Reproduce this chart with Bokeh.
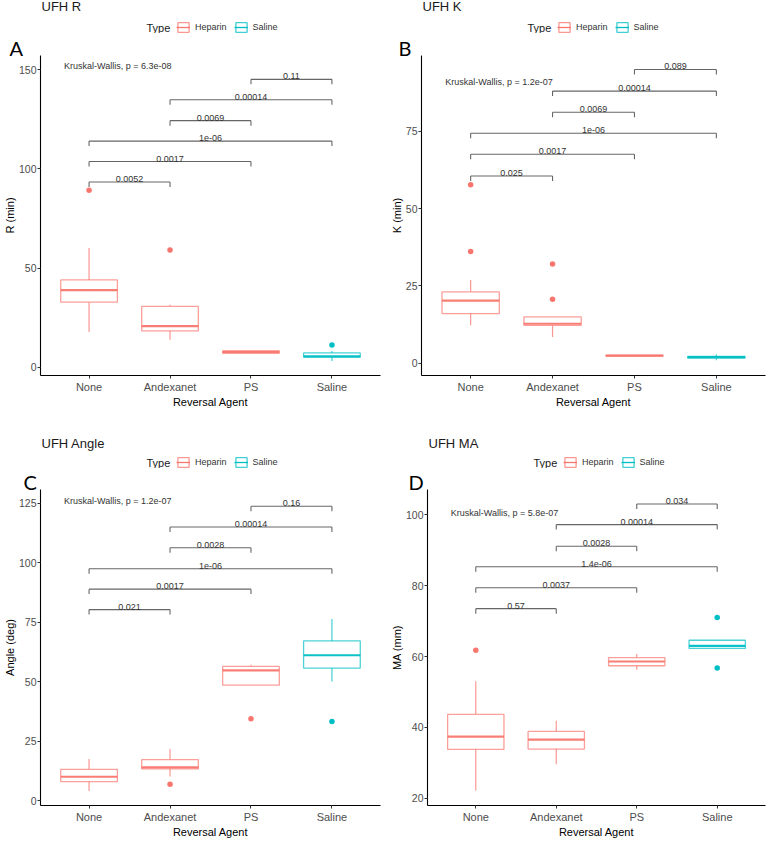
from bokeh.plotting import figure
from bokeh.layouts import column, row
from bokeh.models import Legend, LegendItem, FixedTicker, Range1d, ColumnDataSource, Title
from bokeh.core.properties import value
from bokeh.embed import file_html
from bokeh.resources import INLINE

# ---------------- data ----------------
agents = ["None", "Andexanet", "PS", "Saline"]
agent_type = ["Heparin", "Heparin", "Heparin", "Saline"]
type_names = ["Heparin", "Saline"]
pairs = [("None", "Andexanet"), ("None", "PS"), ("None", "Saline"),
         ("Andexanet", "PS"), ("Andexanet", "Saline"), ("PS", "Saline")]

# UFH R
r_q1 = [32.9, 18.4, 7.1, 5.2]
r_med = [38.9, 20.8, 7.8, 5.6]
r_q3 = [44.1, 30.8, 8.4, 7.3]
r_lo = [17.9, 14.0, 7.1, 3.2]
r_hi = [60.2, 31.6, 8.4, 8.3]
r_out_agent = ["None", "Andexanet", "Saline"]
r_out_val = [89.2, 59.1, 11.3]
r_pvals = ["0.0052", "0.0017", "1e-06", "0.0069", "0.00014", "0.11"]
r_bracket_y = [93.4, 103.7, 114.0, 124.3, 134.8, 145.1]
r_kw = "Kruskal-Wallis, p = 6.3e-08"
r_kw_y = 151.7
r_yticks = [0, 50, 100, 150]

# UFH K
k_q1 = [16.1, 12.3, 2.4, 1.7]
k_med = [20.3, 12.8, 2.5, 2.0]
k_q3 = [23.1, 15.0, 2.6, 2.3]
k_lo = [12.3, 8.5, 2.4, 1.0]
k_hi = [26.9, 15.0, 2.6, 2.9]
k_out_agent = ["None", "None", "Andexanet", "Andexanet"]
k_out_val = [57.7, 36.1, 32.1, 20.7]
k_pvals = ["0.025", "0.0017", "1e-06", "0.0069", "0.00014", "0.089"]
k_bracket_y = [60.5, 67.5, 74.3, 81.1, 87.9, 94.9]
k_kw = "Kruskal-Wallis, p = 1.2e-07"
k_kw_y = 90.8
k_yticks = [0, 25, 50, 75]

# UFH Angle
a_q1 = [7.9, 13.3, 48.5, 55.7]
a_med = [10.0, 13.9, 54.7, 61.1]
a_q3 = [13.1, 17.2, 56.4, 67.1]
a_lo = [4.0, 10.1, 48.5, 50.1]
a_hi = [17.5, 21.7, 57.1, 76.3]
a_out_agent = ["Andexanet", "PS", "Saline"]
a_out_val = [6.8, 34.4, 33.2]
a_pvals = ["0.021", "0.0017", "1e-06", "0.0028", "0.00014", "0.16"]
a_bracket_y = [80.3, 88.9, 97.5, 106.3, 115.0, 123.75]
a_kw = "Kruskal-Wallis, p = 1.2e-07"
a_kw_y = 126.1
a_yticks = [0, 25, 50, 75, 100, 125]

# UFH MA
m_q1 = [33.8, 33.9, 57.4, 62.3]
m_med = [37.4, 36.6, 58.6, 63.0]
m_q3 = [43.7, 38.9, 59.7, 64.6]
m_lo = [22.2, 29.6, 56.3, 62.3]
m_hi = [53.0, 41.9, 60.7, 64.6]
m_out_agent = ["None", "Saline", "Saline"]
m_out_val = [61.8, 71.0, 56.8]
m_pvals = ["0.57", "0.0037", "1.4e-06", "0.0028", "0.00014", "0.034"]
m_bracket_y = [73.5, 79.4, 85.3, 91.1, 97.2, 103.0]
m_kw = "Kruskal-Wallis, p = 5.8e-07"
m_kw_y = 100.5
m_yticks = [20, 40, 60, 80, 100]

# ---------------- style ----------------
COLORS = {"Heparin": "#F8766D", "Saline": "#00BFC4"}
FONT = "Liberation Sans"
BOX_W = 0.7
W = 384
NAN = float("nan")


def make_header(title, hh, title_y, bl, br):
    h = figure(width=W, height=hh, x_range=Range1d(0, 1), y_range=Range1d(0, hh),
               output_backend="svg", toolbar_location=None, x_axis_type=None, y_axis_type=None,
               min_border_left=bl, min_border_right=br, min_border_top=0, min_border_bottom=0)
    h.outline_line_color = None
    h.xgrid.visible = False
    h.ygrid.visible = False
    h.text(x=[0], y=[title_y], text=[title], x_offset=1, text_font=value(FONT),
           text_font_size="13px", text_color="#1a1a1a", text_baseline="middle", text_align="left")
    h.text(x=[0], y=[6], text=["Type"], x_offset=106, text_font=value(FONT),
           text_font_size="11px", text_color="#1a1a1a", text_baseline="middle", text_align="left")
    items = []
    for t in type_names:
        c = COLORS[t]
        b = h.vbar(x=[NAN], width=1, top=[NAN], bottom=[NAN], fill_color="white", line_color=c,
                   line_width=1.3, line_alpha=0.75)
        m = h.segment(x0=[NAN], y0=[NAN], x1=[NAN], y1=[NAN], line_color=c, line_width=1.3)
        items.append(LegendItem(label=t, renderers=[b, m]))
    leg = Legend(items=items, orientation="horizontal", location=(136, 0),
                 glyph_width=14, glyph_height=12, label_height=12, label_standoff=5, spacing=7,
                 padding=0, margin=0, border_line_color=None, background_fill_alpha=0,
                 label_text_font=FONT, label_text_font_size="9px", label_text_color="#333333")
    h.add_layout(leg)
    return h


def make_panel(stats, outs, pvals, bracket_y, kw, kw_y, yticks, ylabel, letter, letter_dx,
               yr, height, bl, br, bt, bb):
    q1, med, q3, lo, hi = stats
    out_agent, out_val = outs
    frame_h = height - bt - bb
    p = figure(width=W, height=height, x_range=Range1d(0.4, 4.6), y_range=Range1d(*yr),
               output_backend="svg", toolbar_location=None,
               min_border_left=bl, min_border_right=br, min_border_top=bt, min_border_bottom=bb)
    p.outline_line_color = None
    p.xgrid.visible = False
    p.ygrid.visible = False

    for t in type_names:
        idx = [i for i, at in enumerate(agent_type) if at == t]
        xs = [i + 1 for i in idx]
        c = COLORS[t]
        src = ColumnDataSource(dict(
            x=xs, x0=[x - BOX_W / 2 for x in xs], x1=[x + BOX_W / 2 for x in xs],
            q1=[q1[i] for i in idx], med=[med[i] for i in idx], q3=[q3[i] for i in idx],
            lo=[lo[i] for i in idx], hi=[hi[i] for i in idx]))
        p.segment(x0="x", y0="q3", x1="x", y1="hi", source=src, line_color=c,
                  line_width=1.2, line_alpha=0.75)
        p.segment(x0="x", y0="q1", x1="x", y1="lo", source=src, line_color=c,
                  line_width=1.2, line_alpha=0.75)
        p.vbar(x="x", width=BOX_W, bottom="q1", top="q3", source=src,
               fill_color="white", line_color=c, line_width=1.3, line_alpha=0.7)
        p.segment(x0="x0", y0="med", x1="x1", y1="med", source=src, line_color=c,
                  line_width=2.2, line_alpha=0.95)
        oi = [k for k, a in enumerate(out_agent) if agent_type[agents.index(a)] == t]
        if oi:
            p.scatter([agents.index(out_agent[k]) + 1 for k in oi], [out_val[k] for k in oi],
                      size=5.5, color=c, line_color=None)

    # brackets
    span = yr[1] - yr[0]
    tick = 5.0 * span / frame_h
    xa = [agents.index(a) + 1 for a, b in pairs]
    xb = [agents.index(b) + 1 for a, b in pairs]
    bcol = "#666666"
    p.segment(x0=xa, y0=bracket_y, x1=xb, y1=bracket_y, line_color=bcol, line_width=1.1)
    p.segment(x0=xa, y0=bracket_y, x1=xa, y1=[y - tick for y in bracket_y], line_color=bcol, line_width=1.1)
    p.segment(x0=xb, y0=bracket_y, x1=xb, y1=[y - tick for y in bracket_y], line_color=bcol, line_width=1.1)
    p.text(x=[(a + b) / 2 for a, b in zip(xa, xb)], y=bracket_y, text=pvals,
           text_align="center", text_baseline="bottom", text_font_size="9px",
           text_color="#333333", text_font=value(FONT))
    p.text(x=[0.69], y=[kw_y], text=[kw], text_align="left", text_baseline="middle",
           text_font_size="9px", text_color="#333333", text_font=value(FONT))

    # axes
    p.xaxis.ticker = FixedTicker(ticks=[1, 2, 3, 4])
    p.xaxis.major_label_overrides = {i + 1: a for i, a in enumerate(agents)}
    p.yaxis.ticker = FixedTicker(ticks=yticks)
    p.xaxis.axis_label = "Reversal Agent"
    p.yaxis.axis_label = ylabel
    for ax in (p.xaxis, p.yaxis):
        ax.axis_line_color = "black"
        ax.axis_line_width = 1.1
        ax.major_tick_line_color = "#333333"
        ax.major_tick_out = 3
        ax.major_tick_in = 0
        ax.minor_tick_out = 0
        ax.minor_tick_in = 0
        ax.major_label_text_color = "#4D4D4D"
        ax.major_label_text_font = FONT
        ax.axis_label_text_font = FONT
        ax.axis_label_text_font_style = "normal"
        ax.axis_label_text_font_size = "11px"
        ax.axis_label_text_color = "black"
    p.xaxis.major_label_text_font_size = "11px"
    p.yaxis.major_label_text_font_size = "10.5px"
    p.xaxis.major_label_standoff = 2
    p.yaxis.major_label_standoff = 1
    p.xaxis.axis_label_standoff = 0
    p.yaxis.axis_label_standoff = 0

    p.add_layout(Title(text=letter, align="left", offset=letter_dx, standoff=-9,
                       text_font="Lato", text_font_size="20px", text_font_style="normal",
                       text_color="black"), "above")
    return p


# row 1: page y 0..420, row 2: 420..840
HH1, HH2 = 33, 48
M1, M2 = 420 - HH1, 420 - HH2

ha = make_header("UFH R", HH1, 27, 37, 4)
pa = make_panel((r_q1, r_med, r_q3, r_lo, r_hi), (r_out_agent, r_out_val), r_pvals, r_bracket_y,
                r_kw, r_kw_y, r_yticks, "R (min)", "A", -31, (-4.05, 157.1), M1, 37, 4, 22, 45)
hb = make_header("UFH K", HH1, 27, 37, 3)
pb = make_panel((k_q1, k_med, k_q3, k_lo, k_hi), (k_out_agent, k_out_val), k_pvals, k_bracket_y,
                k_kw, k_kw_y, k_yticks, "K (min)", "B", -23, (-3.9, 99.4), M1, 37, 3, 22, 45)
hc = make_header("UFH Angle", HH2, 25.5, 37, 4)
pc = make_panel((a_q1, a_med, a_q3, a_lo, a_hi), (a_out_agent, a_out_val), a_pvals, a_bracket_y,
                a_kw, a_kw_y, a_yticks, "Angle (deg)", "C", -17, (-2.1, 130.8), M2, 37, 4, 21, 33)
hd = make_header("UFH MA", HH2, 25.5, 43, 3)
pd_ = make_panel((m_q1, m_med, m_q3, m_lo, m_hi), (m_out_agent, m_out_val), m_pvals, m_bracket_y,
                 m_kw, m_kw_y, m_yticks, "MA (mm)", "D", -19, (18.0, 107.1), M2, 43, 3, 21, 33)

page = column(
    row(column(ha, pa, spacing=0), column(hb, pb, spacing=0), spacing=0),
    row(column(hc, pc, spacing=0), column(hd, pd_, spacing=0), spacing=0),
    spacing=0)
open("out.html", "w").write(file_html(page, INLINE))
